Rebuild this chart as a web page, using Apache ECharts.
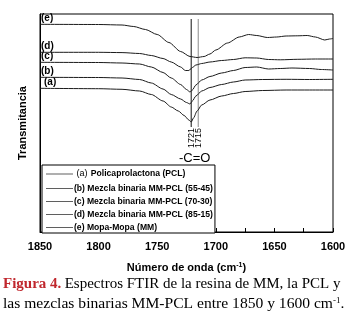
<!DOCTYPE html>
<html><head><meta charset="utf-8">
<script src="https://cdn.jsdelivr.net/npm/echarts@6/dist/echarts.min.js"></script>
<style>html,body{margin:0;padding:0;background:#fff}#c{width:362px;height:315px}</style>
</head><body><div id="c"></div>
<script>
// Series names (legend)
const seriesNames = [
  '(a) Policaprolactona (PCL)',
  '(b) Mezcla binaria MM-PCL (55-45)',
  '(c) Mezcla binaria MM-PCL (70-30)',
  '(d) Mezcla binaria MM-PCL (85-15)',
  '(e) Mopa-Mopa (MM)'
];
const curveTags = ['(a)', '(b)', '(c)', '(d)', '(e)'];

// Wavenumbers (cm-1) and offset transmittance (arbitrary units)
const wnA = [1850,1800,1780,1765,1755,1745,1738,1732,1727,1723,1721,1719,1716,1712,1705,1695,1685,1675,1660,1640,1620,1600];
const tA  = [143.7,143.3,142.7,141,137.5,131,125,121,116.5,112,110,114,121,127,132,136,138.5,140.5,141.5,142,142,142];

const wnB = [1850,1800,1780,1765,1755,1745,1738,1730,1725,1722,1720,1717,1712,1705,1695,1685,1675,1660,1640,1620,1600];
const tB  = [154.7,154.5,154,152.5,149,143,137.5,133,129.5,128,131,136,141,144.5,147.5,150,152,152.5,152.7,152.5,152.7];

const wnC = [1850,1800,1780,1765,1755,1745,1738,1730,1725,1722,1720,1717,1712,1705,1695,1685,1675,1665,1655,1645,1635,1620,1610,1600];
const tC  = [169.7,169.5,169,168,165,159.5,154,147.5,142.5,140,142,147,152,155.5,159,161.5,164.5,165,163,163.5,164,163.5,162.5,162];

const wnD = [1850,1800,1780,1765,1755,1745,1738,1730,1726,1723,1720,1717,1712,1705,1695,1685,1675,1665,1655,1645,1630,1615,1600];
const tD  = [179.7,179.7,179.4,178.5,176.5,173.5,170,165,161.5,161.5,164.5,167,168.5,170,171.5,172.5,174.2,174,172.5,172.2,172.7,173,173];

const wnE = [1850,1800,1780,1770,1760,1750,1740,1730,1722,1716,1710,1705,1700,1690,1680,1672,1665,1656,1648,1640,1630,1622,1615,1607,1603,1600];
const tE  = [207.7,207.5,207,205.5,202.5,197.5,189.5,180.5,175.5,174.5,175.5,178,182,189,195,197.5,196.5,194.5,195,196,196.2,196.5,195,192,193,193.5];

// Carbonyl reference lines
const refPeaks = [1721, 1715];
const refTop = 213, refBottom = 105;
const refLabel = '-C=O';

const wnAll = [wnA, wnB, wnC, wnD, wnE];
const tAll = [tA, tB, tC, tD, tE];

const chart = echarts.init(document.getElementById('c'));
const FONT = 'Liberation Sans, Arial, sans-serif';

const series = seriesNames.map((n, i) => ({
  name: n, type: 'line', symbol: 'none', smooth: 0.25, smoothMonotone: 'x',
  lineStyle: { color: '#1a1a1a', width: 1 }, itemStyle: { color: '#1a1a1a' },
  data: wnAll[i].map((w, k) => [w, tAll[i][k]]), z: 3
}));
refPeaks.forEach((p, i) => {
  series.push({
    name: 'ref' + p, type: 'line', symbol: 'none', silent: true,
    lineStyle: { color: i === 0 ? '#111' : '#8a8a8a', width: 1 },
    data: [[p, refTop], [p, refBottom]], z: 2
  });
});

chart.setOption({
  animation: false,
  grid: { left: 40, right: 29, top: 14, bottom: 83, show: true, borderColor: '#000', borderWidth: 1 },
  xAxis: {
    type: 'value', min: 1600, max: 1850, interval: 50, inverse: true,
    axisLine: { show: true, lineStyle: { color: '#000', width: 1 } },
    axisTick: { show: true, inside: true, length: 4, lineStyle: { color: '#000' } },
    minorTick: { show: true, splitNumber: 2, length: 4, lineStyle: { color: '#000' } },
    splitLine: { show: false },
    axisLabel: { color: '#000', fontFamily: FONT, fontWeight: 'bold', fontSize: 11, margin: 9,
      formatter: v => String(v) },
    name: '{n|Número de onda (cm}{s|-1}{n|)}', nameLocation: 'middle', nameGap: 30,
    nameTextStyle: { rich: {
      n: { fontFamily: FONT, fontWeight: 'bold', fontSize: 11, color: '#000' },
      s: { fontFamily: FONT, fontWeight: 'bold', fontSize: 7, color: '#000', verticalAlign: 'top', padding: [0,0,5,0] }
    } }
  },
  yAxis: {
    type: 'value', min: 0, max: 218,
    axisLine: { show: true, lineStyle: { color: '#000' } },
    axisTick: { show: false }, axisLabel: { show: false }, splitLine: { show: false },
    name: 'Transmitancia', nameLocation: 'middle', nameGap: 12,
    nameTextStyle: { fontFamily: FONT, fontWeight: 'bold', fontSize: 11, color: '#000' }
  },
  legend: {
    data: seriesNames, orient: 'vertical', left: 42, top: 165,
    itemWidth: 27, itemHeight: 9, itemGap: 4,
    padding: [3, 2, 1, 4],
    borderColor: '#000', borderWidth: 1, backgroundColor: '#fff',
    icon: 'path://M0,4.5L27,4.5L27,5.2L0,5.2Z',
    itemStyle: { color: '#1a1a1a' },
    formatter: n => {
      const tag = n.slice(0, 3), rest = n.slice(4);
      return n.startsWith('(a)') ? '{p| (a)} {b|' + rest + '}' : '{b|' + tag + ' ' + rest + '}';
    },
    textStyle: { padding: [0,0,0,-4], rich: {
      p: { fontFamily: FONT, fontSize: 9, color: '#000' },
      b: { fontFamily: FONT, fontWeight: 'bold', fontSize: 8.6, color: '#000' }
    } }
  },
  series: series
});

// Annotations positioned from data coordinates
const g = [];
curveTags.forEach((t, i) => {
  const p = chart.convertToPixel({ gridIndex: 0 }, [wnAll[i][0], tAll[i][0]]);
  g.push({ type: 'text', x: p[0] + (i === 0 ? 4 : 1), y: p[1] - 6, style: {
    text: t, fontFamily: FONT, fontWeight: 'bold', fontSize: 10, fill: '#000', align: 'left', verticalAlign: 'middle' } });
});
refPeaks.forEach(pk => {
  const p = chart.convertToPixel({ gridIndex: 0 }, [pk, refBottom]);
  g.push({ type: 'text', x: p[0], y: p[1] + 11, rotation: Math.PI / 2, style: {
    text: String(pk), fontFamily: FONT, fontSize: 9, fill: '#000', align: 'center', verticalAlign: 'middle' } });
});
{
  const p1 = chart.convertToPixel({ gridIndex: 0 }, [refPeaks[0], refBottom]);
  const p2 = chart.convertToPixel({ gridIndex: 0 }, [refPeaks[1], refBottom]);
  g.push({ type: 'text', x: (p1[0] + p2[0]) / 2, y: p1[1] + 31, style: {
    text: refLabel, fontFamily: FONT, fontSize: 13, fill: '#000', align: 'center', verticalAlign: 'middle' } });
}
const SERIF = 'Liberation Serif, Times New Roman, serif';
g.push({ type: 'text', left: 3, top: 277, style: {
  text: '{r|Figura 4.} {t|Espectros FTIR de la resina de MM, la PCL y}',
  rich: {
    r: { fontFamily: SERIF, fontSize: 15, fontWeight: 'bold', fill: '#c0272d' },
    t: { fontFamily: SERIF, fontSize: 15, fill: '#000' }
  } } });
g.push({ type: 'text', left: 3, top: 296, style: {
  text: '{t|las mezclas binarias MM-PCL entre 1850 y 1600 cm}{s|-1}{t|.}',
  rich: {
    t: { fontFamily: SERIF, fontSize: 15.6, fill: '#000' },
    s: { fontFamily: SERIF, fontSize: 9, fill: '#000', verticalAlign: 'top', padding: [0,0,6,0] }
  } } });
chart.setOption({ graphic: g });
</script></body></html>
